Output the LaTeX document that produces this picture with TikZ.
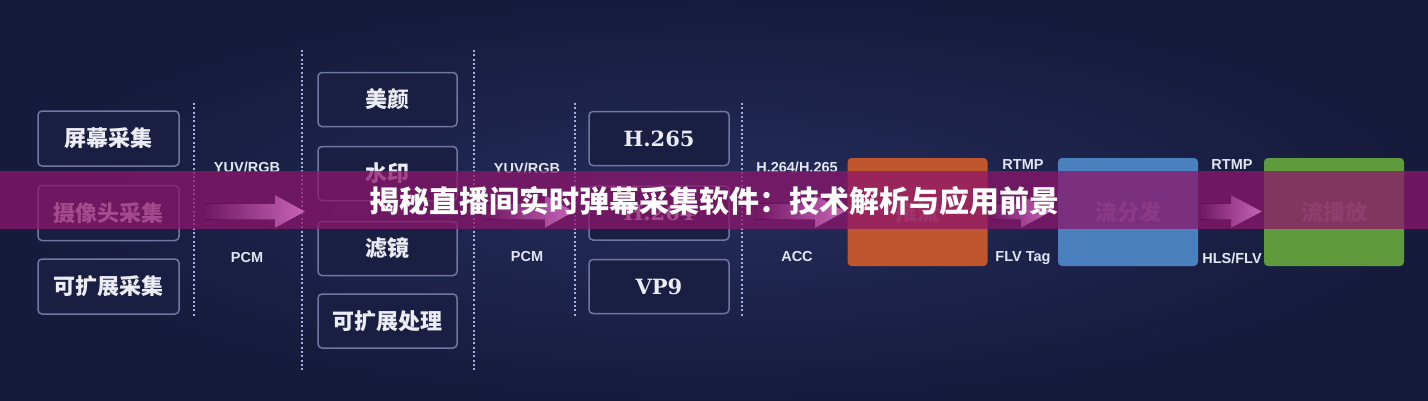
\documentclass[tikz,border=0pt]{standalone}
\usepackage{fontspec}
\setmainfont{Liberation Sans}
\newfontfamily\cjk{Noto Sans CJK SC}
\newfontfamily\codecfont{DejaVu Serif}
\definecolor{bgc}{RGB}{27,33,72}
\definecolor{bgin}{RGB}{36,44,90}
\definecolor{bgout}{RGB}{22,27,60}
\definecolor{boxline}{RGB}{112,120,162}
\definecolor{boxfill}{RGB}{25,30,66}
\definecolor{dotc}{RGB}{165,175,225}
\definecolor{txtc}{RGB}{236,236,244}
\definecolor{lblc}{RGB}{226,229,242}
\definecolor{arrl}{RGB}{112,24,98}
\definecolor{arrc}{RGB}{200,100,185}
\definecolor{orangec}{RGB}{192,86,46}
\definecolor{bluec}{RGB}{74,128,190}
\definecolor{greenc}{RGB}{95,155,60}
\definecolor{bannerc}{RGB}{140,21,107}
\tikzset{
  gbox/.style={draw=boxline, line width=1.5pt, rounded corners=4pt, fill=boxfill,
    inner sep=0pt, text=txtc, font=\cjk\bfseries\fontsize{22}{22}\selectfont},
  codecbox/.style={gbox, font=\codecfont\bfseries\fontsize{21}{21}\selectfont},
  cbox/.style={rounded corners=4pt, inner sep=0pt, minimum width=140pt, minimum height=108pt,
    text=white, text opacity=0.35, font=\cjk\bfseries\fontsize{22}{22}\selectfont},
  lbl/.style={text=lblc, inner sep=0pt, font=\bfseries\fontsize{14.5}{14.5}\selectfont},
  dotline/.style={draw=dotc, line width=2.5pt, dash pattern=on 2pt off 2.3pt},
  garrow/.style={left color=arrl, right color=arrc, draw=none},
}
\begin{document}
\begin{tikzpicture}[x=1pt,y=-1pt]
\useasboundingbox (0,0) rectangle (1428,400);
\shade[inner color=bgin, outer color=bgout] (0,0) rectangle (1428,400);

% separators
\draw[dotline] (194,103) -- (194,317);
\draw[dotline] (302,50) -- (302,370);
\draw[dotline] (474,50) -- (474,370);
\draw[dotline] (575,103) -- (575,317);
\draw[dotline] (742,103) -- (742,317);

% column 1: capture
\node[gbox, minimum width=141pt, minimum height=55pt] (cap1) at (108.5,138.5) {屏幕采集};
\node[gbox, minimum width=141pt, minimum height=55pt] (cap2) at (108.5,213) {摄像头采集};
\node[gbox, minimum width=141pt, minimum height=55pt] (cap3) at (108.5,286.5) {可扩展采集};

% column 2: processing
\node[gbox, minimum width=139pt, minimum height=54pt] (pr1) at (387.5,99.5) {美颜};
\node[gbox, minimum width=139pt, minimum height=54pt] (pr2) at (387.5,173.5) {水印};
\node[gbox, minimum width=139pt, minimum height=54pt] (pr3) at (387.5,248.5) {滤镜};
\node[gbox, minimum width=139pt, minimum height=54pt] (pr4) at (387.5,321) {可扩展处理};

% column 3: codecs
\node[codecbox, minimum width=140pt, minimum height=54pt] (cd1) at (659,138.5) {H.265};
\node[codecbox, minimum width=140pt, minimum height=54pt] (cd2) at (659,213) {H.264};
\node[codecbox, minimum width=140pt, minimum height=54pt] (cd3) at (659,286.5) {VP9};

% format labels
\node[lbl] (l1a) at (247,167) {YUV/RGB};
\node[lbl] (l1b) at (247,258) {PCM};
\node[lbl] (l2a) at (527,168) {YUV/RGB};
\node[lbl] (l2b) at (527,257) {PCM};
\node[lbl] (l3a) at (797,167) {H.264/H.265};
\node[lbl] (l3b) at (797,257) {ACC};
\node[lbl] (l4a) at (1023,165) {RTMP};
\node[lbl] (l4b) at (1023,258) {FLV Tag};
\node[lbl] (l5a) at (1232,165) {RTMP};
\node[lbl] (l5b) at (1232,258) {HLS/FLV};

% coloured stages
\node[cbox, fill=orangec] (push) at (917.5,212) {推流};
\node[cbox, fill=bluec] (dist) at (1128,212) {流分发};
\node[cbox, fill=greenc] (play) at (1334,212) {流播放};

% banner
\fill[bannerc, opacity=0.75] (0,171) rectangle (1428,229);

% arrows
\fill[garrow] (205,203.5) -- (275,203.5) -- (275,195) -- (305,211.5) -- (275,228) -- (275,219.5) -- (205,219.5) -- cycle;
\fill[garrow] (485,203.5) -- (545,203.5) -- (545,195) -- (574,211.5) -- (545,228) -- (545,219.5) -- (485,219.5) -- cycle;
\fill[garrow] (755,203.5) -- (815,203.5) -- (815,195) -- (845,211.5) -- (815,228) -- (815,219.5) -- (755,219.5) -- cycle;
\fill[garrow] (990,203.5) -- (1021,203.5) -- (1021,195) -- (1051,211.5) -- (1021,228) -- (1021,219.5) -- (990,219.5) -- cycle;
\fill[garrow] (1200,203.5) -- (1231,203.5) -- (1231,195) -- (1262,211.5) -- (1231,228) -- (1231,219.5) -- (1200,219.5) -- cycle;

\node[text=white, inner sep=0pt, font=\cjk\bfseries\fontsize{30}{30}\selectfont] (title) at (714,201) {揭秘直播间实时弹幕采集软件：技术解析与应用前景};
\end{tikzpicture}
\end{document}
